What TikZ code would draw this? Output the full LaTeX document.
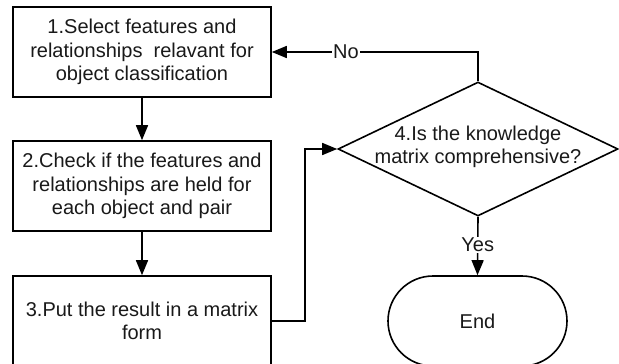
\documentclass[tikz,border=0pt]{standalone}
\usepackage{fontspec}
\setmainfont{Liberation Sans}
\usetikzlibrary{shapes.geometric,arrows.meta}
\begin{document}
\begin{tikzpicture}[x=1pt,y=-1pt,
  every node/.style={font=\fontsize{20}{23.5}\selectfont, text=black!90},
  stepbox/.style={draw, line width=1.6pt, minimum width=258pt, minimum height=90pt, inner sep=0pt, align=center},
  decbox/.style={draw, diamond, line width=1.6pt, minimum width=280pt, minimum height=134pt, inner sep=0pt, aspect=2.09},
  endbox/.style={draw, line width=1.6pt, rounded corners=45pt, minimum width=179pt, minimum height=90pt, inner sep=0pt},
  conn/.style={line width=1.6pt, -{Triangle[length=15pt,width=12pt]}},
  lbl/.style={fill=white, inner sep=1pt}]
\useasboundingbox (0,0) rectangle (619,364);
\node[stepbox] (b1) at (142,52) {1.Select features and\\relationships\ \ relavant for\\object classification};
\node[stepbox] (b2) at (142,186) {2.Check if the features and\\relationships are held for\\each object and pair};
\node[stepbox] (b3) at (142,321) {\raisebox{0pt}[\height][\depth]{3.Put the result in a matrix}\\form};
\node[decbox] (d) at (478,149) {};
\node[align=center, inner sep=0pt] (dt) at (478,147) {4.Is the knowledge\\matrix comprehensive?};
\node[endbox] (e) at (477.5,321) {End};
\draw[conn] (b1.south) -- (b2.north);
\draw[conn] (b2.south) -- (b3.north);
\draw[conn] (b3.east) -- ++(33,0) |- (d.west);
\draw[conn] (d.north) |- node[lbl, pos=0.82] {No} (b1.east);
\draw[conn] (d.south) -- node[lbl, pos=0.48] {Yes} (e.north);
\end{tikzpicture}
\end{document}
